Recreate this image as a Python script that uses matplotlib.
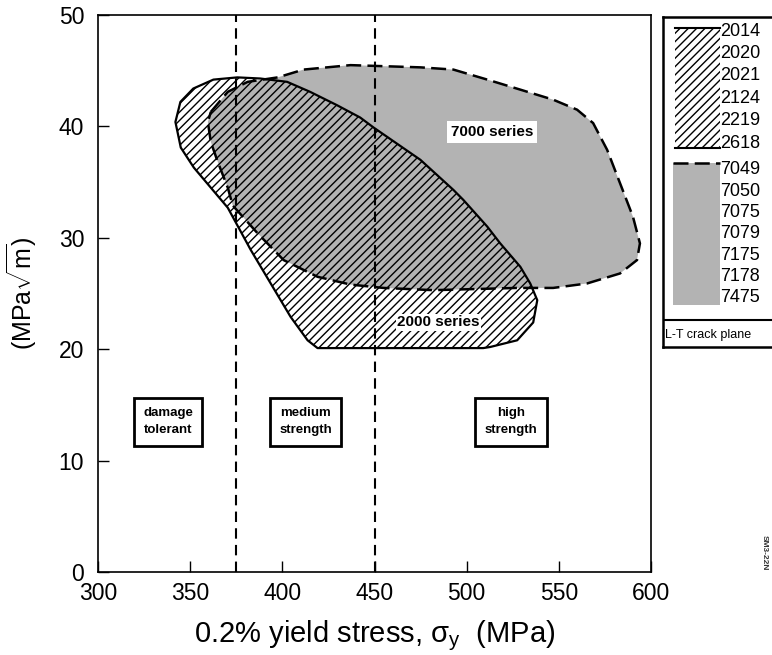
import matplotlib
matplotlib.use('Agg')
import matplotlib.pyplot as plt
from matplotlib.patches import Polygon, Rectangle
import numpy as np

plt.rcParams['font.family'] = ['Liberation Sans', 'DejaVu Sans']
plt.rcParams['mathtext.fontset'] = 'custom'
plt.rcParams['mathtext.rm'] = 'Liberation Sans'
plt.rcParams['mathtext.it'] = 'Liberation Sans'
plt.rcParams['hatch.linewidth'] = 1.0

# 2000 series envelope: yield stress (MPa) vs toughness (MPa sqrt m)
s2000_x = [342.0, 344.7, 351.7, 362.6, 375.6, 388.0, 402.6, 415.1, 429.7,
           442.2, 449.5, 474.9, 492.8, 498.2, 511.2, 518.2, 529.1, 534.5,
           538.3, 536.1, 527.4, 512.8, 509.0, 419.1, 413.7, 404.5, 393.7,
           382.9, 370.4, 361.2, 352.0, 344.9]
s2000_y = [40.4, 42.2, 43.4, 44.2, 44.4, 44.3, 44.0, 43.1, 41.9,
           40.8, 39.9, 37.0, 34.3, 33.4, 31.0, 29.5, 27.4, 25.9,
           24.4, 22.4, 20.8, 20.2, 20.1, 20.1, 20.8, 22.9, 25.9,
           28.9, 32.7, 34.5, 36.3, 38.1]

# 7000 series envelope
s7000_x = [361.2, 370.4, 381.2, 397.5, 411.5, 437.0, 474.9, 492.8, 511.2,
           529.1, 546.9, 559.9, 568.6, 576.2, 583.2, 590.2, 594.0, 592.4,
           583.2, 565.3, 546.9, 527.4, 481.9, 454.9, 437.0, 419.1, 400.7,
           386.6, 373.1, 370.4, 365.0, 361.2, 359.6]
s7000_y = [41.3, 43.1, 44.0, 44.4, 45.1, 45.5, 45.3, 45.1, 44.2,
           43.3, 42.4, 41.5, 40.3, 37.9, 34.9, 31.9, 29.5, 28.0,
           26.8, 25.9, 25.5, 25.5, 25.3, 25.5, 25.8, 26.5, 28.0,
           30.4, 32.9, 34.5, 36.8, 38.6, 40.4]

boundaries = [375, 450]
zone_labels = ['damage\ntolerant', 'medium\nstrength', 'high\nstrength']
zone_x = [338, 412.6, 524]
zone_y = 13.5

alloys_2000 = ['2014', '2020', '2021', '2124', '2219', '2618']
alloys_7000 = ['7049', '7050', '7075', '7079', '7175', '7178', '7475']

gray = '#b3b3b3'
hatch = '////'

fig = plt.figure(figsize=(7.72, 6.55), dpi=100)
ax = fig.add_axes([98 / 772, 83 / 655, 553 / 772, 557 / 655])

ax.add_patch(Polygon(np.column_stack([s7000_x, s7000_y]), closed=True,
                     facecolor=gray, edgecolor='none', zorder=1))
ax.add_patch(Polygon(np.column_stack([s2000_x, s2000_y]), closed=True,
                     facecolor='none', edgecolor='black', hatch=hatch,
                     lw=1.6, joinstyle='round', zorder=2))
ax.add_patch(Polygon(np.column_stack([s7000_x, s7000_y]), closed=True,
                     facecolor='none', edgecolor='black', lw=1.8,
                     linestyle=(0, (6, 2.5)), zorder=3))

for b in boundaries:
    ax.axvline(b, color='black', lw=1.5, linestyle=(0, (5, 3)), zorder=4)

ax.text(514, 39.5, '7000 series', fontsize=11, fontweight='bold',
        ha='center', va='center', zorder=5,
        bbox=dict(boxstyle='square,pad=0.25', facecolor='white', edgecolor='none'))
ax.text(484.6, 22.4, '2000 series', fontsize=11, fontweight='bold',
        ha='center', va='center', zorder=5,
        bbox=dict(boxstyle='square,pad=0.1', facecolor='white', edgecolor='none'))

for lab, zx in zip(zone_labels, zone_x):
    ax.text(zx, zone_y, lab, fontsize=9.5, fontweight='bold', ha='center',
            va='center', linespacing=1.6, zorder=5,
            bbox=dict(boxstyle='square,pad=0.7', facecolor='white',
                      edgecolor='black', lw=2))

ax.set_xlim(300, 600)
ax.set_ylim(0, 50)
ax.set_xticks([300, 350, 400, 450, 500, 550, 600])
ax.set_yticks([0, 10, 20, 30, 40, 50])
ax.tick_params(direction='in', length=8, width=1, labelsize=16.5)
ax.tick_params(axis='x', pad=7)
ax.tick_params(axis='y', pad=10)
ax.set_xlabel('0.2% yield stress, σ$_\\mathregular{y}$  (MPa)', fontsize=21,
              labelpad=10)
ax.set_ylabel('(MPa$\\sqrt{\\mathregular{m}}$)', fontsize=18, labelpad=14)
for sp in ax.spines.values():
    sp.set_linewidth(1.2)

# legend box built by hand
lg = fig.add_axes([663 / 772, (655 - 347) / 655, 120 / 772, 330 / 655])
lg.set_xlim(0, 120)
lg.set_ylim(330, 0)
lg.set_xticks([])
lg.set_yticks([])
for sp in lg.spines.values():
    sp.set_linewidth(1.8)

lg.add_patch(Rectangle((12, 11), 45, 120, facecolor='none', edgecolor='black',
                       hatch=hatch, lw=0))
lg.plot([12, 57], [11, 11], color='black', lw=1.5)
lg.plot([12, 57], [131, 131], color='black', lw=1.5)
lg.add_patch(Rectangle((10, 146), 47, 142, facecolor=gray, edgecolor='none'))
lg.plot([10, 57], [146, 146], color='black', lw=1.8, linestyle=(0, (6, 2.5)))

for lab, ty in zip(alloys_2000, np.linspace(14, 126, len(alloys_2000))):
    lg.text(57, ty, lab, fontsize=13, ha='left', va='center')
for lab, ty in zip(alloys_7000, np.linspace(153, 281, len(alloys_7000))):
    lg.text(57, ty, lab, fontsize=13, ha='left', va='center')

lg.plot([0, 120], [303, 303], color='black', lw=1.5)
lg.text(2, 318, 'L-T crack plane', fontsize=9, ha='left', va='center')

fig.text(0.99, 0.156, 'SM3-22N', fontsize=6, fontweight='bold', rotation=-90,
         color='#333333', ha='center', va='center')

fig.savefig('out.png', dpi=100)
